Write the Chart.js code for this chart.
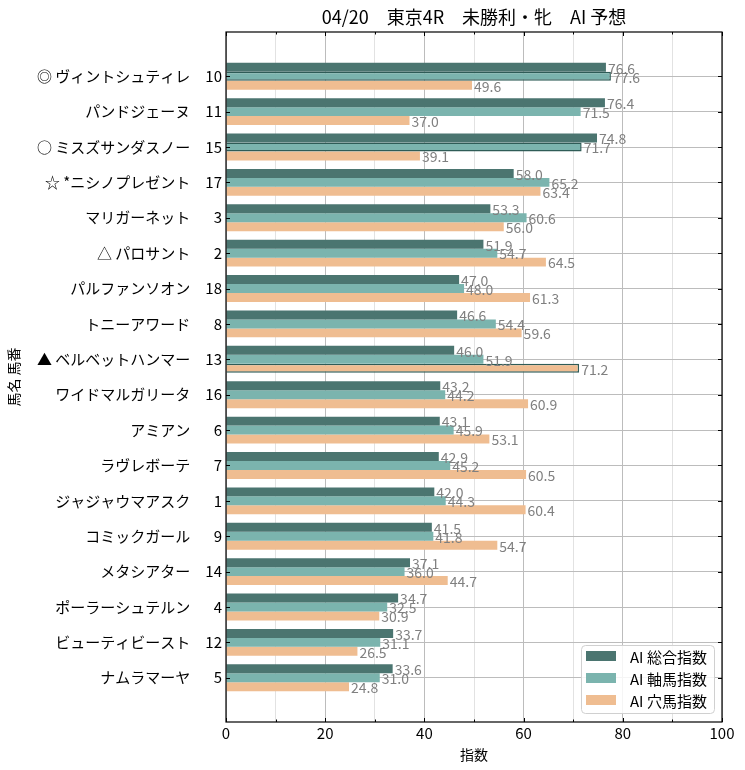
<!DOCTYPE html>
<html>
<head>
<meta charset="utf-8">
<script src="https://cdn.jsdelivr.net/npm/chart.js@4.4.1/dist/chart.umd.min.js"></script>
<style>
  body { margin: 0; background: #fff; }
  #wrap { width: 745px; height: 770px; }
</style>
</head>
<body>
<div id="wrap"><canvas id="myChart"></canvas></div>
<script>
// 馬名・馬番
const uma = ["◎ ヴィントシュティレ", "パンドジェーヌ", "○ ミスズサンダスノー", "☆ *ニシノプレゼント",
    "マリガーネット", "△ パロサント", "パルファンソオン", "トニーアワード", "▲ ベルベットハンマー",
    "ワイドマルガリータ", "アミアン", "ラヴレボーテ", "ジャジャウマアスク", "コミックガール",
    "メタシアター", "ポーラーシュテルン", "ビューティビースト", "ナムラマーヤ"];
const umaban = [10, 11, 15, 17, 3, 2, 18, 8, 13, 16, 6, 7, 1, 9, 14, 4, 12, 5];

// 指数
const sogo = [76.6, 76.4, 74.8, 58.0, 53.3, 51.9, 47.0, 46.6, 46.0, 43.2, 43.1, 42.9, 42.0, 41.5, 37.1, 34.7, 33.7, 33.6];
const jiku = [77.6, 71.5, 71.7, 65.2, 60.6, 54.7, 48.0, 54.4, 51.9, 44.2, 45.9, 45.2, 44.3, 41.8, 36.0, 32.5, 31.1, 31.0];
const ana  = [49.6, 37.0, 39.1, 63.4, 56.0, 64.5, 61.3, 59.6, 71.2, 60.9, 53.1, 60.5, 60.4, 54.7, 44.7, 30.9, 26.5, 24.8];

// 強調する馬 (枠線付き)
const jikuMark = [10, 15];
const anaMark = [13];

const seriesNames = ["AI 総合指数", "AI 軸馬指数", "AI 穴馬指数"];
const xTicks = [0, 20, 40, 60, 80, 100];
const titleText = "04/20　東京4R　未勝利・牝　AI 予想";

const colDark = '#4b7570';
const colTeal = '#7bb4ae';
const colOrange = '#efbd91';
const colEdge = '#2f5c57';

const fontJP = '"Noto Sans CJK JP", "Noto Sans", sans-serif';

function toPoints(vals) {
    return vals.map((v, i) => ({ x: v, y: i }));
}

// 枠線の幅
function edgeWidths(marks) {
    return umaban.map(n => marks.includes(n) ? 1.5 : 0);
}

// タイトル・枠・目盛り・値ラベル・凡例
const extraPlugin = {
    id: 'extra',
    afterDraw(chart) {
        const ctx = chart.ctx;
        const a = chart.chartArea;
        const xs = chart.scales.x;
        const ys = chart.scales.y;
        ctx.save();

        // タイトル
        ctx.fillStyle = '#000';
        ctx.font = '18px ' + fontJP;
        ctx.textAlign = 'center';
        ctx.textBaseline = 'middle';
        ctx.fillText(titleText, (a.left + a.right) / 2, 17);

        // 値ラベル
        ctx.font = '14px ' + fontJP;
        ctx.fillStyle = '#808080';
        ctx.textAlign = 'left';
        chart.data.datasets.forEach((ds, di) => {
            const meta = chart.getDatasetMeta(di);
            meta.data.forEach((bar, i) => {
                ctx.fillText(ds.data[i].x.toFixed(1), bar.x + 2, bar.y + 1);
            });
        });

        // 枠
        ctx.strokeStyle = '#000';
        ctx.lineWidth = 1.2;
        ctx.strokeRect(a.left, a.top, a.right - a.left, a.bottom - a.top);

        // 内向き目盛り
        ctx.lineWidth = 1;
        for (let v = 0; v <= 100; v += 10) {
            const px = Math.round(xs.getPixelForValue(v)) + 0.5;
            const len = v % 20 === 0 ? 4 : 2.5;
            ctx.beginPath();
            ctx.moveTo(px, a.bottom); ctx.lineTo(px, a.bottom - len);
            ctx.moveTo(px, a.top); ctx.lineTo(px, a.top + len);
            ctx.stroke();
        }
        uma.forEach((_, i) => {
            const py = Math.round(ys.getPixelForValue(i)) + 0.5;
            ctx.beginPath();
            ctx.moveTo(a.left, py); ctx.lineTo(a.left + 4, py);
            ctx.moveTo(a.right, py); ctx.lineTo(a.right - 4, py);
            ctx.stroke();
        });

        // 凡例
        const lx = 581, ly = 645, lw = 133, lh = 68;
        ctx.beginPath();
        ctx.roundRect(lx + 0.5, ly + 0.5, lw, lh, 4);
        ctx.fillStyle = 'rgba(255,255,255,0.85)';
        ctx.fill();
        ctx.strokeStyle = '#d0d0d0';
        ctx.stroke();
        const cols = [colDark, colTeal, colOrange];
        ctx.font = '15px ' + fontJP;
        seriesNames.forEach((name, i) => {
            const cy = ly + 11 + i * 22;
            ctx.fillStyle = cols[i];
            ctx.fillRect(lx + 5, cy - 5, 30, 10);
            ctx.fillStyle = '#000';
            ctx.fillText(name, lx + 49, cy + 1);
        });
        ctx.restore();
    }
};

const ctx = document.getElementById("myChart").getContext("2d");

const myChart = new Chart(ctx, {
    type: 'bar',
    data: {
        datasets: [
            {
                label: seriesNames[0],
                data: toPoints(sogo),
                backgroundColor: colDark,
                borderColor: colEdge,
                borderWidth: 0
            },
            {
                label: seriesNames[1],
                data: toPoints(jiku),
                backgroundColor: colTeal,
                borderColor: colEdge,
                borderWidth: edgeWidths(jikuMark)
            },
            {
                label: seriesNames[2],
                data: toPoints(ana),
                backgroundColor: colOrange,
                borderColor: colEdge,
                borderWidth: edgeWidths(anaMark)
            }
        ]
    },
    options: {
        responsive: true,
        maintainAspectRatio: false,
        animation: false,
        indexAxis: 'y',
        categoryPercentage: 0.76,
        barPercentage: 1.0,
        layout: { padding: { top: 32, right: 23, left: 0, bottom: 0 } },
        scales: {
            x: {
                type: 'linear',
                min: 0,
                max: 100,
                z: 1,
                afterFit: s => { s.height = 48; },
                afterBuildTicks: s => {
                    s.ticks = [];
                    for (let v = 0; v <= 100; v += 10) s.ticks.push({ value: v });
                },
                ticks: {
                    autoSkip: false,
                    maxRotation: 0,
                    padding: 2,
                    color: '#000',
                    font: { family: fontJP, size: 15 },
                    callback: v => xTicks.includes(v) ? String(v) : ''
                },
                grid: {
                    drawTicks: false,
                    color: ctx => (ctx.tick && ctx.tick.value % 20 === 0) ? '#bcbcbc' : '#e2e2e2',
                    lineWidth: 1
                },
                border: { display: false },
                title: {
                    display: true,
                    text: '指数',
                    color: '#000',
                    font: { family: fontJP, size: 14 },
                    padding: { top: 2, bottom: 7 }
                }
            },
            y: {
                type: 'linear',
                reverse: true,
                offset: false,
                min: -1.25,
                max: 18.25,
                z: 1,
                afterFit: s => { s.width = 226; },
                afterBuildTicks: s => {
                    s.ticks = uma.map((_, i) => ({ value: i }));
                },
                ticks: {
                    autoSkip: false,
                    padding: 4,
                    color: '#000',
                    font: { family: fontJP, size: 15 },
                    callback: v => uma[v] + '　' + String(umaban[v]).padStart(2, '\u2007')
                },
                grid: {
                    offset: false,
                    drawTicks: false,
                    color: '#bcbcbc',
                    lineWidth: 1
                },
                border: { display: false },
                title: {
                    display: true,
                    text: '馬名 馬番',
                    color: '#000',
                    font: { family: fontJP, size: 14 },
                    padding: { top: 5, bottom: 0 }
                }
            }
        },
        plugins: {
            legend: { display: false },
            title: { display: false },
            tooltip: { enabled: false }
        }
    },
    plugins: [extraPlugin]
});
</script>
</body>
</html>
